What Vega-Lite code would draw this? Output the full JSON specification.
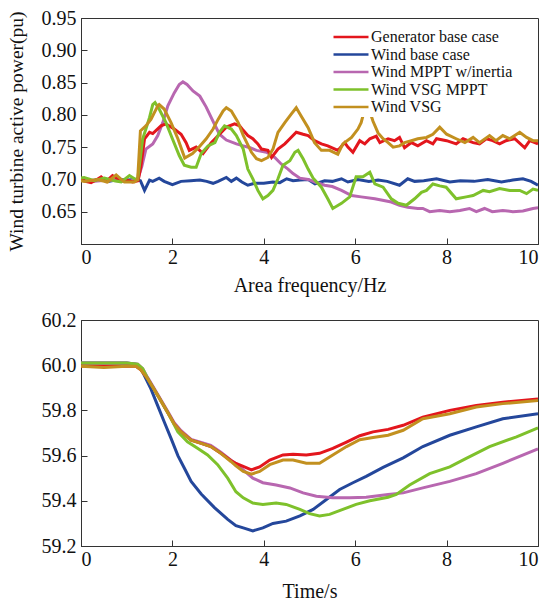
{
  "$schema": "https://vega.github.io/schema/vega-lite/v6.json",
  "padding": {"left": 5, "top": 7, "right": 2, "bottom": 1},
  "spacing": 13,
  "datasets": {
    "top": [
      {"s":"Wind base case","t":0,"v":0.700},{"s":"Wind base case","t":0.2,"v":0.698},{"s":"Wind base case","t":0.4,"v":0.700},{"s":"Wind base case","t":0.6,"v":0.697},{"s":"Wind base case","t":0.8,"v":0.700},{"s":"Wind base case","t":1.0,"v":0.699},{"s":"Wind base case","t":1.2,"v":0.700},{"s":"Wind base case","t":1.3,"v":0.698},{"s":"Wind base case","t":1.39,"v":0.683},{"s":"Wind base case","t":1.5,"v":0.699},{"s":"Wind base case","t":1.57,"v":0.697},{"s":"Wind base case","t":1.71,"v":0.702},{"s":"Wind base case","t":1.82,"v":0.697},{"s":"Wind base case","t":2.0,"v":0.692},{"s":"Wind base case","t":2.19,"v":0.697},{"s":"Wind base case","t":2.4,"v":0.698},{"s":"Wind base case","t":2.6,"v":0.699},{"s":"Wind base case","t":2.75,"v":0.697},{"s":"Wind base case","t":2.89,"v":0.694},{"s":"Wind base case","t":3.0,"v":0.697},{"s":"Wind base case","t":3.18,"v":0.703},{"s":"Wind base case","t":3.29,"v":0.697},{"s":"Wind base case","t":3.4,"v":0.702},{"s":"Wind base case","t":3.52,"v":0.696},{"s":"Wind base case","t":3.65,"v":0.691},{"s":"Wind base case","t":3.8,"v":0.694},{"s":"Wind base case","t":4.0,"v":0.694},{"s":"Wind base case","t":4.2,"v":0.696},{"s":"Wind base case","t":4.35,"v":0.695},{"s":"Wind base case","t":4.5,"v":0.701},{"s":"Wind base case","t":4.64,"v":0.698},{"s":"Wind base case","t":4.8,"v":0.699},{"s":"Wind base case","t":4.97,"v":0.700},{"s":"Wind base case","t":5.12,"v":0.693},{"s":"Wind base case","t":5.33,"v":0.698},{"s":"Wind base case","t":5.5,"v":0.697},{"s":"Wind base case","t":5.7,"v":0.701},{"s":"Wind base case","t":5.84,"v":0.696},{"s":"Wind base case","t":6.06,"v":0.700},{"s":"Wind base case","t":6.3,"v":0.697},{"s":"Wind base case","t":6.5,"v":0.699},{"s":"Wind base case","t":6.7,"v":0.697},{"s":"Wind base case","t":6.97,"v":0.691},{"s":"Wind base case","t":7.15,"v":0.701},{"s":"Wind base case","t":7.3,"v":0.697},{"s":"Wind base case","t":7.5,"v":0.698},{"s":"Wind base case","t":7.78,"v":0.701},{"s":"Wind base case","t":8.07,"v":0.696},{"s":"Wind base case","t":8.3,"v":0.698},{"s":"Wind base case","t":8.6,"v":0.697},{"s":"Wind base case","t":8.9,"v":0.700},{"s":"Wind base case","t":9.2,"v":0.696},{"s":"Wind base case","t":9.45,"v":0.699},{"s":"Wind base case","t":9.67,"v":0.701},{"s":"Wind base case","t":9.85,"v":0.697},{"s":"Wind base case","t":10.0,"v":0.691},

      {"s":"Wind MPPT w/inertia","t":0,"v":0.699},{"s":"Wind MPPT w/inertia","t":0.3,"v":0.697},{"s":"Wind MPPT w/inertia","t":0.6,"v":0.699},{"s":"Wind MPPT w/inertia","t":0.9,"v":0.697},{"s":"Wind MPPT w/inertia","t":1.1,"v":0.698},{"s":"Wind MPPT w/inertia","t":1.24,"v":0.700},{"s":"Wind MPPT w/inertia","t":1.33,"v":0.720},{"s":"Wind MPPT w/inertia","t":1.42,"v":0.747},{"s":"Wind MPPT w/inertia","t":1.57,"v":0.755},{"s":"Wind MPPT w/inertia","t":1.68,"v":0.768},{"s":"Wind MPPT w/inertia","t":1.79,"v":0.788},{"s":"Wind MPPT w/inertia","t":1.9,"v":0.814},{"s":"Wind MPPT w/inertia","t":2.04,"v":0.834},{"s":"Wind MPPT w/inertia","t":2.15,"v":0.847},{"s":"Wind MPPT w/inertia","t":2.23,"v":0.851},{"s":"Wind MPPT w/inertia","t":2.32,"v":0.847},{"s":"Wind MPPT w/inertia","t":2.45,"v":0.837},{"s":"Wind MPPT w/inertia","t":2.6,"v":0.829},{"s":"Wind MPPT w/inertia","t":2.74,"v":0.812},{"s":"Wind MPPT w/inertia","t":2.89,"v":0.790},{"s":"Wind MPPT w/inertia","t":3.03,"v":0.770},{"s":"Wind MPPT w/inertia","t":3.18,"v":0.761},{"s":"Wind MPPT w/inertia","t":3.4,"v":0.755},{"s":"Wind MPPT w/inertia","t":3.55,"v":0.752},{"s":"Wind MPPT w/inertia","t":3.7,"v":0.749},{"s":"Wind MPPT w/inertia","t":3.84,"v":0.745},{"s":"Wind MPPT w/inertia","t":4.06,"v":0.742},{"s":"Wind MPPT w/inertia","t":4.24,"v":0.734},{"s":"Wind MPPT w/inertia","t":4.38,"v":0.724},{"s":"Wind MPPT w/inertia","t":4.53,"v":0.716},{"s":"Wind MPPT w/inertia","t":4.64,"v":0.709},{"s":"Wind MPPT w/inertia","t":4.79,"v":0.702},{"s":"Wind MPPT w/inertia","t":4.97,"v":0.700},{"s":"Wind MPPT w/inertia","t":5.12,"v":0.696},{"s":"Wind MPPT w/inertia","t":5.33,"v":0.691},{"s":"Wind MPPT w/inertia","t":5.5,"v":0.689},{"s":"Wind MPPT w/inertia","t":5.7,"v":0.683},{"s":"Wind MPPT w/inertia","t":5.92,"v":0.675},{"s":"Wind MPPT w/inertia","t":6.13,"v":0.673},{"s":"Wind MPPT w/inertia","t":6.43,"v":0.670},{"s":"Wind MPPT w/inertia","t":6.79,"v":0.665},{"s":"Wind MPPT w/inertia","t":6.97,"v":0.660},{"s":"Wind MPPT w/inertia","t":7.15,"v":0.657},{"s":"Wind MPPT w/inertia","t":7.37,"v":0.655},{"s":"Wind MPPT w/inertia","t":7.48,"v":0.655},{"s":"Wind MPPT w/inertia","t":7.63,"v":0.650},{"s":"Wind MPPT w/inertia","t":7.85,"v":0.652},{"s":"Wind MPPT w/inertia","t":8.07,"v":0.650},{"s":"Wind MPPT w/inertia","t":8.29,"v":0.652},{"s":"Wind MPPT w/inertia","t":8.5,"v":0.655},{"s":"Wind MPPT w/inertia","t":8.65,"v":0.650},{"s":"Wind MPPT w/inertia","t":8.83,"v":0.655},{"s":"Wind MPPT w/inertia","t":9.0,"v":0.650},{"s":"Wind MPPT w/inertia","t":9.23,"v":0.652},{"s":"Wind MPPT w/inertia","t":9.45,"v":0.650},{"s":"Wind MPPT w/inertia","t":9.67,"v":0.651},{"s":"Wind MPPT w/inertia","t":9.89,"v":0.655},{"s":"Wind MPPT w/inertia","t":10.0,"v":0.656},

      {"s":"Generator base case","t":0,"v":0.702},{"s":"Generator base case","t":0.1,"v":0.697},{"s":"Generator base case","t":0.22,"v":0.695},{"s":"Generator base case","t":0.35,"v":0.700},{"s":"Generator base case","t":0.44,"v":0.704},{"s":"Generator base case","t":0.55,"v":0.697},{"s":"Generator base case","t":0.69,"v":0.706},{"s":"Generator base case","t":0.8,"v":0.701},{"s":"Generator base case","t":0.88,"v":0.698},{"s":"Generator base case","t":1.0,"v":0.699},{"s":"Generator base case","t":1.13,"v":0.696},{"s":"Generator base case","t":1.25,"v":0.698},{"s":"Generator base case","t":1.31,"v":0.720},{"s":"Generator base case","t":1.39,"v":0.763},{"s":"Generator base case","t":1.5,"v":0.773},{"s":"Generator base case","t":1.57,"v":0.771},{"s":"Generator base case","t":1.75,"v":0.783},{"s":"Generator base case","t":1.86,"v":0.786},{"s":"Generator base case","t":2.04,"v":0.778},{"s":"Generator base case","t":2.19,"v":0.770},{"s":"Generator base case","t":2.3,"v":0.757},{"s":"Generator base case","t":2.37,"v":0.745},{"s":"Generator base case","t":2.52,"v":0.750},{"s":"Generator base case","t":2.67,"v":0.740},{"s":"Generator base case","t":2.85,"v":0.757},{"s":"Generator base case","t":3.03,"v":0.770},{"s":"Generator base case","t":3.18,"v":0.781},{"s":"Generator base case","t":3.36,"v":0.786},{"s":"Generator base case","t":3.47,"v":0.783},{"s":"Generator base case","t":3.55,"v":0.776},{"s":"Generator base case","t":3.65,"v":0.768},{"s":"Generator base case","t":3.76,"v":0.763},{"s":"Generator base case","t":3.87,"v":0.755},{"s":"Generator base case","t":3.95,"v":0.747},{"s":"Generator base case","t":4.09,"v":0.745},{"s":"Generator base case","t":4.17,"v":0.734},{"s":"Generator base case","t":4.31,"v":0.747},{"s":"Generator base case","t":4.46,"v":0.755},{"s":"Generator base case","t":4.57,"v":0.763},{"s":"Generator base case","t":4.71,"v":0.773},{"s":"Generator base case","t":4.86,"v":0.770},{"s":"Generator base case","t":4.97,"v":0.768},{"s":"Generator base case","t":5.11,"v":0.760},{"s":"Generator base case","t":5.26,"v":0.755},{"s":"Generator base case","t":5.4,"v":0.752},{"s":"Generator base case","t":5.62,"v":0.745},{"s":"Generator base case","t":5.77,"v":0.757},{"s":"Generator base case","t":5.84,"v":0.750},{"s":"Generator base case","t":5.95,"v":0.742},{"s":"Generator base case","t":6.1,"v":0.760},{"s":"Generator base case","t":6.21,"v":0.755},{"s":"Generator base case","t":6.32,"v":0.763},{"s":"Generator base case","t":6.46,"v":0.767},{"s":"Generator base case","t":6.54,"v":0.757},{"s":"Generator base case","t":6.72,"v":0.763},{"s":"Generator base case","t":6.86,"v":0.760},{"s":"Generator base case","t":6.97,"v":0.765},{"s":"Generator base case","t":7.08,"v":0.749},{"s":"Generator base case","t":7.23,"v":0.757},{"s":"Generator base case","t":7.37,"v":0.752},{"s":"Generator base case","t":7.56,"v":0.760},{"s":"Generator base case","t":7.7,"v":0.755},{"s":"Generator base case","t":7.78,"v":0.763},{"s":"Generator base case","t":8.0,"v":0.760},{"s":"Generator base case","t":8.21,"v":0.755},{"s":"Generator base case","t":8.36,"v":0.763},{"s":"Generator base case","t":8.58,"v":0.757},{"s":"Generator base case","t":8.72,"v":0.755},{"s":"Generator base case","t":8.87,"v":0.763},{"s":"Generator base case","t":9.01,"v":0.760},{"s":"Generator base case","t":9.16,"v":0.755},{"s":"Generator base case","t":9.3,"v":0.760},{"s":"Generator base case","t":9.49,"v":0.763},{"s":"Generator base case","t":9.71,"v":0.749},{"s":"Generator base case","t":9.82,"v":0.760},{"s":"Generator base case","t":10.0,"v":0.755},

      {"s":"Wind VSG MPPT","t":0,"v":0.702},{"s":"Wind VSG MPPT","t":0.07,"v":0.703},{"s":"Wind VSG MPPT","t":0.29,"v":0.698},{"s":"Wind VSG MPPT","t":0.51,"v":0.702},{"s":"Wind VSG MPPT","t":0.73,"v":0.698},{"s":"Wind VSG MPPT","t":0.88,"v":0.696},{"s":"Wind VSG MPPT","t":1.06,"v":0.706},{"s":"Wind VSG MPPT","t":1.17,"v":0.701},{"s":"Wind VSG MPPT","t":1.24,"v":0.700},{"s":"Wind VSG MPPT","t":1.35,"v":0.763},{"s":"Wind VSG MPPT","t":1.42,"v":0.778},{"s":"Wind VSG MPPT","t":1.5,"v":0.796},{"s":"Wind VSG MPPT","t":1.57,"v":0.816},{"s":"Wind VSG MPPT","t":1.62,"v":0.819},{"s":"Wind VSG MPPT","t":1.71,"v":0.809},{"s":"Wind VSG MPPT","t":1.86,"v":0.788},{"s":"Wind VSG MPPT","t":2.0,"v":0.763},{"s":"Wind VSG MPPT","t":2.15,"v":0.737},{"s":"Wind VSG MPPT","t":2.26,"v":0.722},{"s":"Wind VSG MPPT","t":2.41,"v":0.719},{"s":"Wind VSG MPPT","t":2.52,"v":0.719},{"s":"Wind VSG MPPT","t":2.63,"v":0.740},{"s":"Wind VSG MPPT","t":2.78,"v":0.752},{"s":"Wind VSG MPPT","t":2.93,"v":0.757},{"s":"Wind VSG MPPT","t":3.03,"v":0.773},{"s":"Wind VSG MPPT","t":3.14,"v":0.783},{"s":"Wind VSG MPPT","t":3.29,"v":0.778},{"s":"Wind VSG MPPT","t":3.4,"v":0.768},{"s":"Wind VSG MPPT","t":3.55,"v":0.747},{"s":"Wind VSG MPPT","t":3.65,"v":0.716},{"s":"Wind VSG MPPT","t":3.76,"v":0.701},{"s":"Wind VSG MPPT","t":3.87,"v":0.683},{"s":"Wind VSG MPPT","t":3.98,"v":0.670},{"s":"Wind VSG MPPT","t":4.09,"v":0.675},{"s":"Wind VSG MPPT","t":4.2,"v":0.683},{"s":"Wind VSG MPPT","t":4.31,"v":0.701},{"s":"Wind VSG MPPT","t":4.42,"v":0.722},{"s":"Wind VSG MPPT","t":4.57,"v":0.729},{"s":"Wind VSG MPPT","t":4.68,"v":0.742},{"s":"Wind VSG MPPT","t":4.75,"v":0.745},{"s":"Wind VSG MPPT","t":4.86,"v":0.732},{"s":"Wind VSG MPPT","t":4.97,"v":0.716},{"s":"Wind VSG MPPT","t":5.08,"v":0.702},{"s":"Wind VSG MPPT","t":5.26,"v":0.688},{"s":"Wind VSG MPPT","t":5.4,"v":0.670},{"s":"Wind VSG MPPT","t":5.51,"v":0.655},{"s":"Wind VSG MPPT","t":5.7,"v":0.663},{"s":"Wind VSG MPPT","t":5.88,"v":0.673},{"s":"Wind VSG MPPT","t":6.02,"v":0.704},{"s":"Wind VSG MPPT","t":6.17,"v":0.704},{"s":"Wind VSG MPPT","t":6.32,"v":0.711},{"s":"Wind VSG MPPT","t":6.43,"v":0.693},{"s":"Wind VSG MPPT","t":6.61,"v":0.688},{"s":"Wind VSG MPPT","t":6.79,"v":0.670},{"s":"Wind VSG MPPT","t":6.94,"v":0.663},{"s":"Wind VSG MPPT","t":7.12,"v":0.660},{"s":"Wind VSG MPPT","t":7.3,"v":0.670},{"s":"Wind VSG MPPT","t":7.45,"v":0.680},{"s":"Wind VSG MPPT","t":7.56,"v":0.683},{"s":"Wind VSG MPPT","t":7.7,"v":0.693},{"s":"Wind VSG MPPT","t":7.85,"v":0.690},{"s":"Wind VSG MPPT","t":7.99,"v":0.688},{"s":"Wind VSG MPPT","t":8.21,"v":0.670},{"s":"Wind VSG MPPT","t":8.43,"v":0.673},{"s":"Wind VSG MPPT","t":8.58,"v":0.675},{"s":"Wind VSG MPPT","t":8.8,"v":0.683},{"s":"Wind VSG MPPT","t":8.94,"v":0.681},{"s":"Wind VSG MPPT","t":9.16,"v":0.686},{"s":"Wind VSG MPPT","t":9.38,"v":0.683},{"s":"Wind VSG MPPT","t":9.6,"v":0.683},{"s":"Wind VSG MPPT","t":9.75,"v":0.678},{"s":"Wind VSG MPPT","t":9.89,"v":0.685},{"s":"Wind VSG MPPT","t":10.0,"v":0.683},

      {"s":"Wind VSG","t":0,"v":0.698},{"s":"Wind VSG","t":0.07,"v":0.697},{"s":"Wind VSG","t":0.36,"v":0.700},{"s":"Wind VSG","t":0.58,"v":0.696},{"s":"Wind VSG","t":0.77,"v":0.707},{"s":"Wind VSG","t":0.95,"v":0.696},{"s":"Wind VSG","t":1.17,"v":0.696},{"s":"Wind VSG","t":1.24,"v":0.700},{"s":"Wind VSG","t":1.30,"v":0.775},{"s":"Wind VSG","t":1.42,"v":0.783},{"s":"Wind VSG","t":1.53,"v":0.793},{"s":"Wind VSG","t":1.68,"v":0.814},{"s":"Wind VSG","t":1.71,"v":0.816},{"s":"Wind VSG","t":1.82,"v":0.809},{"s":"Wind VSG","t":1.97,"v":0.788},{"s":"Wind VSG","t":2.12,"v":0.763},{"s":"Wind VSG","t":2.27,"v":0.733},{"s":"Wind VSG","t":2.44,"v":0.740},{"s":"Wind VSG","t":2.58,"v":0.750},{"s":"Wind VSG","t":2.74,"v":0.763},{"s":"Wind VSG","t":2.89,"v":0.778},{"s":"Wind VSG","t":3.0,"v":0.793},{"s":"Wind VSG","t":3.11,"v":0.806},{"s":"Wind VSG","t":3.18,"v":0.811},{"s":"Wind VSG","t":3.29,"v":0.806},{"s":"Wind VSG","t":3.44,"v":0.788},{"s":"Wind VSG","t":3.55,"v":0.768},{"s":"Wind VSG","t":3.73,"v":0.742},{"s":"Wind VSG","t":3.84,"v":0.732},{"s":"Wind VSG","t":3.95,"v":0.729},{"s":"Wind VSG","t":4.09,"v":0.734},{"s":"Wind VSG","t":4.2,"v":0.747},{"s":"Wind VSG","t":4.31,"v":0.773},{"s":"Wind VSG","t":4.46,"v":0.788},{"s":"Wind VSG","t":4.6,"v":0.801},{"s":"Wind VSG","t":4.71,"v":0.811},{"s":"Wind VSG","t":4.82,"v":0.798},{"s":"Wind VSG","t":4.97,"v":0.780},{"s":"Wind VSG","t":5.11,"v":0.757},{"s":"Wind VSG","t":5.26,"v":0.745},{"s":"Wind VSG","t":5.44,"v":0.745},{"s":"Wind VSG","t":5.62,"v":0.739},{"s":"Wind VSG","t":5.73,"v":0.755},{"s":"Wind VSG","t":5.92,"v":0.765},{"s":"Wind VSG","t":6.06,"v":0.778},{"s":"Wind VSG","t":6.13,"v":0.788},{"s":"Wind VSG","t":6.25,"v":0.820},{"s":"Wind VSG","t":6.39,"v":0.790},{"s":"Wind VSG","t":6.5,"v":0.772},{"s":"Wind VSG","t":6.61,"v":0.763},{"s":"Wind VSG","t":6.72,"v":0.757},{"s":"Wind VSG","t":6.83,"v":0.750},{"s":"Wind VSG","t":6.97,"v":0.752},{"s":"Wind VSG","t":7.08,"v":0.757},{"s":"Wind VSG","t":7.23,"v":0.760},{"s":"Wind VSG","t":7.37,"v":0.763},{"s":"Wind VSG","t":7.56,"v":0.765},{"s":"Wind VSG","t":7.7,"v":0.770},{"s":"Wind VSG","t":7.85,"v":0.781},{"s":"Wind VSG","t":8.0,"v":0.770},{"s":"Wind VSG","t":8.21,"v":0.763},{"s":"Wind VSG","t":8.4,"v":0.757},{"s":"Wind VSG","t":8.58,"v":0.765},{"s":"Wind VSG","t":8.72,"v":0.757},{"s":"Wind VSG","t":8.94,"v":0.768},{"s":"Wind VSG","t":9.08,"v":0.760},{"s":"Wind VSG","t":9.23,"v":0.768},{"s":"Wind VSG","t":9.38,"v":0.763},{"s":"Wind VSG","t":9.6,"v":0.773},{"s":"Wind VSG","t":9.75,"v":0.765},{"s":"Wind VSG","t":9.89,"v":0.760},{"s":"Wind VSG","t":10.0,"v":0.760}
    ],
    "bot": [
      {"s":"Wind base case","t":0,"v":60.01},{"s":"Wind base case","t":0.5,"v":60.01},{"s":"Wind base case","t":1.0,"v":60.01},{"s":"Wind base case","t":1.2,"v":60.005},{"s":"Wind base case","t":1.3,"v":59.99},{"s":"Wind base case","t":1.39,"v":59.953},{"s":"Wind base case","t":1.53,"v":59.895},{"s":"Wind base case","t":1.68,"v":59.82},{"s":"Wind base case","t":1.82,"v":59.75},{"s":"Wind base case","t":1.97,"v":59.676},{"s":"Wind base case","t":2.12,"v":59.60},{"s":"Wind base case","t":2.26,"v":59.545},{"s":"Wind base case","t":2.41,"v":59.486},{"s":"Wind base case","t":2.63,"v":59.43},{"s":"Wind base case","t":2.92,"v":59.37},{"s":"Wind base case","t":3.21,"v":59.318},{"s":"Wind base case","t":3.39,"v":59.29},{"s":"Wind base case","t":3.55,"v":59.28},{"s":"Wind base case","t":3.76,"v":59.267},{"s":"Wind base case","t":3.98,"v":59.28},{"s":"Wind base case","t":4.2,"v":59.30},{"s":"Wind base case","t":4.49,"v":59.31},{"s":"Wind base case","t":4.79,"v":59.333},{"s":"Wind base case","t":5.08,"v":59.362},{"s":"Wind base case","t":5.37,"v":59.406},{"s":"Wind base case","t":5.66,"v":59.45},{"s":"Wind base case","t":5.95,"v":59.48},{"s":"Wind base case","t":6.24,"v":59.508},{"s":"Wind base case","t":6.61,"v":59.548},{"s":"Wind base case","t":7.05,"v":59.59},{"s":"Wind base case","t":7.48,"v":59.64},{"s":"Wind base case","t":8.07,"v":59.69},{"s":"Wind base case","t":8.65,"v":59.727},{"s":"Wind base case","t":9.23,"v":59.763},{"s":"Wind base case","t":10.0,"v":59.785},

      {"s":"Wind MPPT w/inertia","t":0,"v":60.01},{"s":"Wind MPPT w/inertia","t":1.0,"v":60.01},{"s":"Wind MPPT w/inertia","t":1.24,"v":60.005},{"s":"Wind MPPT w/inertia","t":1.35,"v":59.985},{"s":"Wind MPPT w/inertia","t":1.46,"v":59.945},{"s":"Wind MPPT w/inertia","t":1.68,"v":59.87},{"s":"Wind MPPT w/inertia","t":1.9,"v":59.795},{"s":"Wind MPPT w/inertia","t":2.04,"v":59.745},{"s":"Wind MPPT w/inertia","t":2.19,"v":59.71},{"s":"Wind MPPT w/inertia","t":2.41,"v":59.672},{"s":"Wind MPPT w/inertia","t":2.63,"v":59.658},{"s":"Wind MPPT w/inertia","t":2.84,"v":59.645},{"s":"Wind MPPT w/inertia","t":3.06,"v":59.615},{"s":"Wind MPPT w/inertia","t":3.28,"v":59.58},{"s":"Wind MPPT w/inertia","t":3.39,"v":59.565},{"s":"Wind MPPT w/inertia","t":3.55,"v":59.537},{"s":"Wind MPPT w/inertia","t":3.76,"v":59.50},{"s":"Wind MPPT w/inertia","t":3.98,"v":59.48},{"s":"Wind MPPT w/inertia","t":4.27,"v":59.47},{"s":"Wind MPPT w/inertia","t":4.57,"v":59.457},{"s":"Wind MPPT w/inertia","t":4.86,"v":59.435},{"s":"Wind MPPT w/inertia","t":5.15,"v":59.42},{"s":"Wind MPPT w/inertia","t":5.51,"v":59.413},{"s":"Wind MPPT w/inertia","t":5.88,"v":59.413},{"s":"Wind MPPT w/inertia","t":6.24,"v":59.416},{"s":"Wind MPPT w/inertia","t":6.72,"v":59.428},{"s":"Wind MPPT w/inertia","t":7.05,"v":59.435},{"s":"Wind MPPT w/inertia","t":7.48,"v":59.457},{"s":"Wind MPPT w/inertia","t":8.07,"v":59.486},{"s":"Wind MPPT w/inertia","t":8.65,"v":59.52},{"s":"Wind MPPT w/inertia","t":9.23,"v":59.566},{"s":"Wind MPPT w/inertia","t":10.0,"v":59.63},

      {"s":"Generator base case","t":0,"v":59.997},{"s":"Generator base case","t":0.5,"v":59.995},{"s":"Generator base case","t":1.0,"v":59.997},{"s":"Generator base case","t":1.2,"v":59.995},{"s":"Generator base case","t":1.31,"v":59.98},{"s":"Generator base case","t":1.46,"v":59.94},{"s":"Generator base case","t":1.68,"v":59.866},{"s":"Generator base case","t":1.9,"v":59.79},{"s":"Generator base case","t":2.04,"v":59.74},{"s":"Generator base case","t":2.19,"v":59.705},{"s":"Generator base case","t":2.41,"v":59.668},{"s":"Generator base case","t":2.63,"v":59.654},{"s":"Generator base case","t":2.84,"v":59.64},{"s":"Generator base case","t":3.06,"v":59.61},{"s":"Generator base case","t":3.28,"v":59.578},{"s":"Generator base case","t":3.39,"v":59.565},{"s":"Generator base case","t":3.55,"v":59.552},{"s":"Generator base case","t":3.73,"v":59.537},{"s":"Generator base case","t":3.91,"v":59.55},{"s":"Generator base case","t":4.13,"v":59.58},{"s":"Generator base case","t":4.42,"v":59.603},{"s":"Generator base case","t":4.64,"v":59.606},{"s":"Generator base case","t":4.93,"v":59.603},{"s":"Generator base case","t":5.22,"v":59.61},{"s":"Generator base case","t":5.51,"v":59.632},{"s":"Generator base case","t":5.81,"v":59.66},{"s":"Generator base case","t":6.1,"v":59.688},{"s":"Generator base case","t":6.39,"v":59.705},{"s":"Generator base case","t":6.72,"v":59.716},{"s":"Generator base case","t":7.05,"v":59.734},{"s":"Generator base case","t":7.48,"v":59.77},{"s":"Generator base case","t":8.07,"v":59.80},{"s":"Generator base case","t":8.65,"v":59.822},{"s":"Generator base case","t":9.23,"v":59.836},{"s":"Generator base case","t":10.0,"v":59.85},

      {"s":"Wind VSG MPPT","t":0,"v":60.01},{"s":"Wind VSG MPPT","t":1.0,"v":60.01},{"s":"Wind VSG MPPT","t":1.24,"v":60.005},{"s":"Wind VSG MPPT","t":1.35,"v":59.985},{"s":"Wind VSG MPPT","t":1.46,"v":59.94},{"s":"Wind VSG MPPT","t":1.68,"v":59.866},{"s":"Wind VSG MPPT","t":1.9,"v":59.79},{"s":"Wind VSG MPPT","t":2.12,"v":59.705},{"s":"Wind VSG MPPT","t":2.33,"v":59.661},{"s":"Wind VSG MPPT","t":2.55,"v":59.632},{"s":"Wind VSG MPPT","t":2.77,"v":59.603},{"s":"Wind VSG MPPT","t":2.99,"v":59.56},{"s":"Wind VSG MPPT","t":3.21,"v":59.50},{"s":"Wind VSG MPPT","t":3.39,"v":59.44},{"s":"Wind VSG MPPT","t":3.55,"v":59.413},{"s":"Wind VSG MPPT","t":3.76,"v":59.39},{"s":"Wind VSG MPPT","t":3.98,"v":59.384},{"s":"Wind VSG MPPT","t":4.27,"v":59.39},{"s":"Wind VSG MPPT","t":4.49,"v":59.384},{"s":"Wind VSG MPPT","t":4.79,"v":59.362},{"s":"Wind VSG MPPT","t":5.0,"v":59.343},{"s":"Wind VSG MPPT","t":5.22,"v":59.333},{"s":"Wind VSG MPPT","t":5.44,"v":59.34},{"s":"Wind VSG MPPT","t":5.73,"v":59.362},{"s":"Wind VSG MPPT","t":6.02,"v":59.384},{"s":"Wind VSG MPPT","t":6.32,"v":59.40},{"s":"Wind VSG MPPT","t":6.72,"v":59.416},{"s":"Wind VSG MPPT","t":6.9,"v":59.428},{"s":"Wind VSG MPPT","t":7.19,"v":59.47},{"s":"Wind VSG MPPT","t":7.63,"v":59.52},{"s":"Wind VSG MPPT","t":8.07,"v":59.55},{"s":"Wind VSG MPPT","t":8.43,"v":59.588},{"s":"Wind VSG MPPT","t":8.94,"v":59.64},{"s":"Wind VSG MPPT","t":9.53,"v":59.683},{"s":"Wind VSG MPPT","t":10.0,"v":59.723},

      {"s":"Wind VSG","t":0,"v":59.995},{"s":"Wind VSG","t":0.5,"v":59.99},{"s":"Wind VSG","t":1.0,"v":59.995},{"s":"Wind VSG","t":1.2,"v":59.995},{"s":"Wind VSG","t":1.31,"v":59.98},{"s":"Wind VSG","t":1.46,"v":59.94},{"s":"Wind VSG","t":1.68,"v":59.866},{"s":"Wind VSG","t":1.9,"v":59.79},{"s":"Wind VSG","t":2.04,"v":59.74},{"s":"Wind VSG","t":2.19,"v":59.705},{"s":"Wind VSG","t":2.41,"v":59.668},{"s":"Wind VSG","t":2.63,"v":59.654},{"s":"Wind VSG","t":2.84,"v":59.64},{"s":"Wind VSG","t":3.06,"v":59.61},{"s":"Wind VSG","t":3.28,"v":59.574},{"s":"Wind VSG","t":3.39,"v":59.555},{"s":"Wind VSG","t":3.55,"v":59.53},{"s":"Wind VSG","t":3.73,"v":59.518},{"s":"Wind VSG","t":3.91,"v":59.53},{"s":"Wind VSG","t":4.13,"v":59.56},{"s":"Wind VSG","t":4.42,"v":59.58},{"s":"Wind VSG","t":4.64,"v":59.58},{"s":"Wind VSG","t":4.93,"v":59.566},{"s":"Wind VSG","t":5.22,"v":59.566},{"s":"Wind VSG","t":5.51,"v":59.603},{"s":"Wind VSG","t":5.81,"v":59.64},{"s":"Wind VSG","t":6.1,"v":59.67},{"s":"Wind VSG","t":6.39,"v":59.68},{"s":"Wind VSG","t":6.72,"v":59.69},{"s":"Wind VSG","t":7.05,"v":59.712},{"s":"Wind VSG","t":7.48,"v":59.763},{"s":"Wind VSG","t":8.07,"v":59.785},{"s":"Wind VSG","t":8.65,"v":59.815},{"s":"Wind VSG","t":9.23,"v":59.83},{"s":"Wind VSG","t":10.0,"v":59.844}
    ]
  },
  "vconcat": [
    {
      "width": 457,
      "height": 226,
      "data": {"name": "top"},
      "mark": {"type": "line", "strokeWidth": 3, "clip": true},
      "encoding": {
        "x": {"field": "t", "type": "quantitative", "scale": {"domain": [0, 10], "nice": false},
          "axis": {"values": [0, 2, 4, 6, 8, 10], "title": "Area frequency/Hz", "titlePadding": 8}},
        "y": {"field": "v", "type": "quantitative", "scale": {"domain": [0.6, 0.95], "nice": false, "zero": false},
          "axis": {"values": [0.65, 0.7, 0.75, 0.8, 0.85, 0.9, 0.95], "format": ".2f", "title": "Wind turbine active power(pu)", "titlePadding": 15, "titleFontSize": 19.5}},
        "color": {"field": "s", "type": "nominal",
          "scale": {"domain": ["Generator base case", "Wind base case", "Wind MPPT w/inertia", "Wind VSG MPPT", "Wind VSG"],
                    "range": ["#e3161d", "#24479b", "#b867b0", "#7ec12b", "#c2901f"]},
          "legend": {"title": null, "orient": "none", "legendX": 260, "legendY": 9, "padding": 2, "fillColor": "white",
            "symbolType": "M-3,0H3", "symbolSize": 136, "symbolStrokeWidth": 2.5, "labelOffset": 12,
            "labelFont": "Liberation Serif", "labelFontSize": 16, "labelColor": "#111", "rowPadding": 1.5}},
        "order": {"field": "t", "type": "quantitative"}
      }
    },
    {
      "width": 457,
      "height": 226,
      "data": {"name": "bot"},
      "mark": {"type": "line", "strokeWidth": 3, "clip": true},
      "encoding": {
        "x": {"field": "t", "type": "quantitative", "scale": {"domain": [0, 10], "nice": false},
          "axis": {"values": [0, 2, 4, 6, 8, 10], "title": "Time/s", "titlePadding": 12}},
        "y": {"field": "v", "type": "quantitative", "scale": {"domain": [59.2, 60.2], "nice": false, "zero": false},
          "axis": {"values": [59.2, 59.4, 59.6, 59.8, 60.0, 60.2], "format": ".1f", "title": null}},
        "color": {"field": "s", "type": "nominal",
          "scale": {"domain": ["Generator base case", "Wind base case", "Wind MPPT w/inertia", "Wind VSG MPPT", "Wind VSG"],
                    "range": ["#e3161d", "#24479b", "#b867b0", "#7ec12b", "#c2901f"]},
          "legend": null},
        "order": {"field": "t", "type": "quantitative"}
      }
    }
  ],
  "resolve": {"scale": {"color": "independent"}},
  "config": {
    "font": "Liberation Serif",
    "view": {"stroke": "#333", "strokeWidth": 1},
    "axis": {"labelFont": "Liberation Serif", "titleFont": "Liberation Serif", "labelFontSize": 20, "titleFontSize": 20,
      "titleFontWeight": "normal", "labelColor": "#111", "titleColor": "#111", "grid": false,
      "domainColor": "#333", "tickColor": "#333", "tickSize": -6},
    "axisX": {"labelPadding": 9},
    "axisY": {"labelPadding": 11}
  }
}
